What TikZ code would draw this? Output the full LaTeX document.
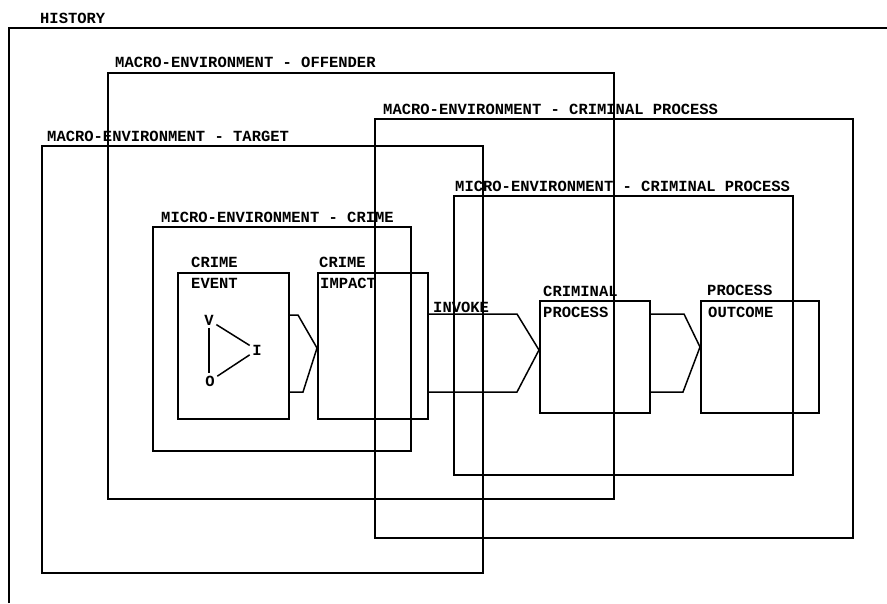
\documentclass[tikz,border=0pt]{standalone}
\usepackage{fontspec}
\setmonofont{Liberation Mono}
\usetikzlibrary{calc}
\begin{document}
\begin{tikzpicture}[x=1pt,y=-1pt,
  every node/.style={font=\ttfamily\bfseries\fontsize{15.5}{18}\selectfont},
  frame/.style={draw=black,line width=1.5pt,line join=miter},
  boxnode/.style={draw=black,line width=1.5pt,inner sep=0pt,anchor=north west},
  lbl/.style={anchor=base west,inner sep=0pt},
  chev/.style={draw=black,line width=1.5pt,line join=miter},
  voi/.style={inner sep=2.5pt,font=\ttfamily\bfseries\fontsize{15.5}{18}\selectfont}]
\useasboundingbox (0,0) rectangle (887,603);
% history frame (open)
\coordinate (hL) at (9,603);
\coordinate (hTL) at (9,28);
\coordinate (hR) at (887,28);
\draw[frame] (hL) -- (hTL) -- (hR);
\node[lbl] (hist) at (40,23) {HISTORY};
% environment boxes
\node[boxnode,minimum width=506pt,minimum height=426pt] (off) at (107,72) {};
\node[lbl] (offl) at (115,67) {MACRO-ENVIRONMENT - OFFENDER};
\node[boxnode,minimum width=478pt,minimum height=419pt] (mcp) at (374,118) {};
\node[lbl] (mcpl) at (383,114) {MACRO-ENVIRONMENT - CRIMINAL PROCESS};
\node[boxnode,minimum width=441pt,minimum height=427pt] (tgt) at (41,145) {};
\node[lbl] (tgtl) at (47,141) {MACRO-ENVIRONMENT - TARGET};
\node[boxnode,minimum width=339pt,minimum height=279pt] (micp) at (453,195) {};
\node[lbl] (micpl) at (455,191) {MICRO-ENVIRONMENT - CRIMINAL PROCESS};
\node[boxnode,minimum width=258pt,minimum height=224pt] (mic) at (152,226) {};
\node[lbl] (micl) at (161,222) {MICRO-ENVIRONMENT - CRIME};
% stage boxes
\node[boxnode,minimum width=111pt,minimum height=146pt] (ev) at (177,272) {};
\node[lbl] (evl1) at (191,267) {CRIME};
\node[lbl] (evl2) at (191,288) {EVENT};
\node[boxnode,minimum width=110pt,minimum height=146pt] (im) at (317,272) {};
\node[lbl] (iml1) at (319,267) {CRIME};
\node[lbl] (iml2) at (320,288) {IMPACT};
\node[boxnode,minimum width=110pt,minimum height=112pt] (cp) at (539,300) {};
\node[lbl] (cpl1) at (543,296) {CRIMINAL};
\node[lbl] (cpl2) at (543,317) {PROCESS};
\node[boxnode,minimum width=118pt,minimum height=112pt] (po) at (700,300) {};
\node[lbl] (pol1) at (707,295) {PROCESS};
\node[lbl] (pol2) at (708,317) {OUTCOME};
% chevron connectors
\draw[chev] (ev.east |- 0,315) -- (298,315) -- (im.west |- 0,348) -- (303,392) -- (ev.east |- 0,392);
\draw[chev] (im.east |- 0,314) -- (517,314) -- (cp.west |- 0,350) -- (517,392) -- (im.east |- 0,392);
\node[lbl] (inv) at (433,312) {INVOKE};
\draw[chev] (cp.east |- 0,314) -- (684,314) -- (po.west |- 0,347) -- (683,392) -- (cp.east |- 0,392);
% V-O-I triangle
\node[voi] (V) at (209,320) {V};
\node[voi] (I) at (257,350) {I};
\node[voi] (O) at (210,381) {O};
\draw[line width=1.5pt] (V.south) -- (V.south |- O.north);
\draw[line width=1.5pt] (V) -- (I);
\draw[line width=1.5pt] (O) -- (I);
\end{tikzpicture}
\end{document}
